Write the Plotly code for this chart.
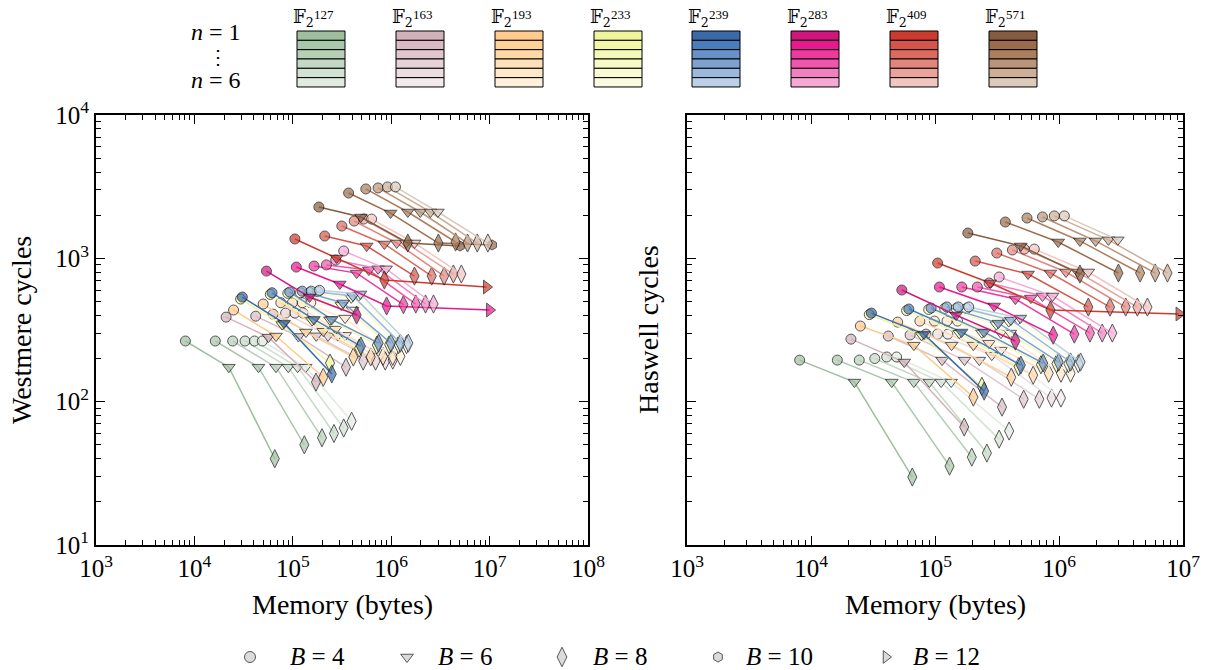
import plotly.graph_objects as go

W, H = 1208, 670
FIELDS = ["127", "163", "193", "233", "239", "283", "409", "571"]
N_VALUES = [1, 2, 3, 4, 5, 6]
B_VALUES = [4, 6, 8, 10, 12]

COLORS = {
    "127": ["#9dbf9e", "#a9c7aa", "#b6d0b7", "#c4d9c5", "#d2e2d2", "#e1ece1"],
    "163": ["#d3b1bb", "#dabbc4", "#e0c6cd", "#e6d2d7", "#ecdde1", "#f3eaed"],
    "193": ["#fecb8c", "#fed19a", "#fed8a9", "#fee0b9", "#fee8ca", "#fef0db"],
    "233": ["#eff59c", "#f2f7aa", "#f4f8b8", "#f6fac6", "#f8fbd4", "#fafce2"],
    "239": ["#3b6aa8", "#4a7dbc", "#6891c8", "#7ea2d0", "#9ab9dc", "#bcd0e8"],
    "283": ["#d0157f", "#e8188e", "#ee3a9f", "#f156ac", "#f27fc0", "#f6a9d5"],
    "409": ["#cd3b2f", "#d5554a", "#db6b61", "#e2857c", "#eaa29b", "#f1c5c0"],
    "571": ["#875c3e", "#9a6c4b", "#ab7f5e", "#bb957a", "#cdaf98", "#dccabb"],
}

# Memory (bytes), n = 1..6
MEM_B4 = {
    "127": [8100, 16300, 24500, 32700, 40800, 49000],
    "163": [21000, 42000, 63000, 84500, 105000, 127000],
    "193": [25000, 50000, 75500, 99000, 125000, 152000],
    "233": [29500, 59000, 89000, 119500, 148000, 179500],
    "239": [30700, 61500, 93000, 124500, 154000, 187000],
    "283": [54000, 108500, 164500, 219500, 273000, 329000],
    "409": [105000, 211000, 315000, 421000, 525000, 632000],
    "571": [184000, 369000, 552000, 736000, 917000, 1105000],
}
MEM_B6 = {
    "127": [22400, 44800, 67500, 90000, 112000, 135000],
    "163": [56500, 114000, 173000, 228000, 287000, 341000],
    "193": [67500, 136000, 204000, 273000, 340000, 405000],
    "233": [78000, 157000, 239000, 312000, 393000, 468000],
    "239": [81500, 164000, 249000, 325000, 409000, 488000],
    "283": [148000, 300000, 445000, 593000, 736000, 887000],
    "409": [279000, 563000, 853000, 1138000, 1414000, 1724000],
    "571": [492000, 985000, 1475000, 1974000, 2505000, 2980000],
}
MEM_B8 = {
    "127": [65600, 131000, 198000, 262000, 329000, 396000],
    "163": [172000, 347000, 519000, 694000, 870000, 1037000],
    "193": [204000, 412000, 619000, 826000, 1037000, 1240000],
    "233": [239000, 472000, 715000, 954000, 1190000, 1432000],
    "239": [249000, 492000, 745000, 994000, 1240000, 1492000],
    "283": [445000, 898000, 1330000, 1777000, 2232000, 2692000],
    "409": [853000, 1724000, 2580000, 3450000, 4285000, 5165000],
    "571": [1475000, 3015000, 4510000, 5965000, 7495000, 9600000],
}

# Westmere cycles, n = 1..6
WSM_B4 = {
    "127": [265, 265, 265, 265, 265, 265],
    "163": [389, 395, 408, 415, 415, 415],
    "193": [436, 480, 490, 490, 490, 490],
    "233": [520, 560, 570, 575, 578, 585],
    "239": [537, 575, 582, 590, 590, 598],
    "283": [815, 869, 884, 900, 973, 1125],
    "409": [1365, 1432, 1680, 1820, 1880, 1880],
    "571": [2280, 2856, 3048, 3098, 3148, 3148],
}
WSM_B6 = {
    "127": [174, 174, 174, 174, 174, 174],
    "163": [282, 285, 288, 288, 290, 290],
    "193": [287, 306, 310, 321, 383, 436],
    "233": [345, 368, 372, 470, 530, 550],
    "239": [353, 375, 375, 488, 546, 564],
    "283": [537, 662, 789, 828, 845, 845],
    "409": [1005, 1219, 1259, 1280, 1280, 1280],
    "571": [1941, 2070, 2105, 2105, 2105, 2105],
}
WSM_B8 = {
    "127": [40, 50, 56, 60, 65.5, 73],
    "163": [137, 174, 192, 192, 192, 195],
    "193": [148, 205, 205, 207, 207, 207],
    "233": [186, 236, 248, 250, 250, 250],
    "239": [156, 244, 256, 256, 256, 256],
    "283": [402, 465, 475, 480, 480, 480],
    "409": [706, 752, 752, 752, 777, 777],
    "571": [1279, 1279, 1300, 1279, 1279, 1279],
}

# Haswell cycles, n = 1..6 (None: no point in the Haswell panel)
HSW_B4 = {
    "127": [195, 195, 195, 200, 205, 205],
    "163": [273, 287, 292, 296, 296, 296],
    "193": [337, 359, 365, 365, 365, 365],
    "233": [405, 432, 440, 447, 447, 447],
    "239": [415, 443, 450, 458, 458, 458],
    "283": [601, 631, 631, 631, 673, 741],
    "409": [927, 957, 1089, 1143, 1160, 1160],
    "571": [1502, 1792, 1911, 1944, 1977, 1977],
}
HSW_B6 = {
    "127": [137, 137, 137, 137, 137, 137],
    "163": [189, 195, 195, 195, 211, 229],
    "193": [248, 248, 248, 256, 301, 301],
    "233": [290, 300, 302, 345, 362, 374],
    "239": [296, 306, 306, 353, 371, 383],
    "283": [402, 465, 520, 528, 546, 546],
    "409": [673, 777, 790, 803, 803, 803],
    "571": [1219, 1300, 1322, 1322, 1345, 1345],
}
HSW_B8 = {
    "127": [29.8, 35.5, 41, 43.8, 54.8, 62.4],
    "163": [66.5, 91.6, 104, 104, 106, 106],
    "193": [107.6, 148, 153, 158, 158, 158],
    "233": [128, 175, 181, 184, 184, 184],
    "239": [118.5, 180, 186, 189, 189, 189],
    "283": [265, 291, 296, 301, 301, 301],
    "409": [436, 457, 457, 457, 457, 457],
    "571": [777, 790, 790, 790, 790, None],
}

# Extra points with B = 10 and B = 12: (field, n, B, memory, westmere, haswell)
EXTRA_POINTS = [
    ("571", 1, 10, 5000000, 1219, None),
    ("571", 2, 10, 10600000, 1240, None),
    ("283", 2, 12, 10000000, 436, None),
    ("409", 1, 12, 9300000, 631, 409),
]

SYMBOLS = {4: "circle", 6: "triangle-down", 8: "diamond-tall", 10: "hexagon", 12: "triangle-right"}
SIZES = {4: 10, 6: 11, 8: 13, 10: 10, 12: 12}
LEGEND_LABELS = ["<i>B</i> = 4", "<i>B</i> = 6", "<i>B</i> = 8", "<i>B</i> = 10", "<i>B</i> = 12"]

SERIF = "Liberation Serif, DejaVu Serif, serif"


def px(x):
    return x / W


def py(y):
    return 1 - y / H


fig = go.Figure()

machines = [
    ("x", "y", WSM_B4, WSM_B6, WSM_B8, 4),
    ("x2", "y2", HSW_B4, HSW_B6, HSW_B8, 5),
]
for xa, ya, c4, c6, c8, col_idx in machines:
    for f in FIELDS:
        for i, n in enumerate(N_VALUES):
            pts = [
                (4, MEM_B4[f][i], c4[f][i]),
                (6, MEM_B6[f][i], c6[f][i]),
                (8, MEM_B8[f][i], c8[f][i]),
            ]
            for ef, en, eb, emem, ew, eh in EXTRA_POINTS:
                val = ew if col_idx == 4 else eh
                if ef == f and en == n:
                    pts.append((eb, emem, val))
            pts = [p for p in pts if p[2] is not None]
            pts.sort(key=lambda p: p[0])
            color = COLORS[f][i]
            fig.add_trace(go.Scatter(
                x=[p[1] for p in pts], y=[p[2] for p in pts],
                xaxis=xa, yaxis=ya, mode="lines+markers",
                line=dict(color=color, width=1.5),
                marker=dict(
                    symbol=[SYMBOLS[p[0]] for p in pts],
                    size=[SIZES[p[0]] for p in pts],
                    color=color, line=dict(color="#111111", width=1),
                ),
                showlegend=False, hoverinfo="skip",
            ))

# bottom legend (helper axis in pixel coordinates)
legend_marker_x = [250, 407, 562, 718, 886]
legend_text_x = [288, 436, 591, 744, 911]
fig.add_trace(go.Scatter(
    x=legend_marker_x, y=[657] * 5, xaxis="x3", yaxis="y3", mode="markers",
    marker=dict(symbol=[SYMBOLS[b] for b in B_VALUES], size=[11, 11, 14, 10, 11],
                color="#cccccc", line=dict(color="#111111", width=1)),
    showlegend=False, hoverinfo="skip",
))

minor_x = [k * 10 ** e for e in range(3, 8) for k in range(2, 10)]
minor_y = [k * 10 ** e for e in range(1, 4) for k in range(2, 10)]

axis_common = dict(
    type="log", showline=True, linewidth=2, linecolor="black", mirror="allticks",
    ticks="inside", ticklen=9, tickwidth=1.3, tickcolor="black",
    showgrid=False, zeroline=False, automargin=False,
    tickfont=dict(family=SERIF, size=25, color="black"),
)
minor_common = dict(ticks="inside", ticklen=5, tickwidth=1, tickcolor="black", showgrid=False)

fig.update_layout(
    width=W, height=H, margin=dict(l=0, r=0, t=0, b=0, pad=0, autoexpand=False),
    paper_bgcolor="white", plot_bgcolor="white",
    font=dict(family=SERIF, color="black"),
    xaxis=dict(axis_common, domain=[px(96), px(588)], range=[3, 8], anchor="y",
               tickvals=[10 ** e for e in range(3, 9)],
               ticktext=[f"10<sup>{e}</sup>" for e in range(3, 9)],
               minor=dict(minor_common, tickvals=minor_x)),
    yaxis=dict(axis_common, domain=[py(545), py(115)], range=[1, 4], anchor="x",
               tickvals=[10 ** e for e in range(1, 5)],
               ticktext=[f"10<sup>{e}</sup>" for e in range(1, 5)],
               minor=dict(minor_common, tickvals=minor_y)),
    xaxis2=dict(axis_common, domain=[px(687), px(1183)], range=[3, 7], anchor="y2",
                tickvals=[10 ** e for e in range(3, 8)],
                ticktext=[f"10<sup>{e}</sup>" for e in range(3, 8)],
                minor=dict(minor_common, tickvals=minor_x)),
    yaxis2=dict(axis_common, domain=[py(545), py(115)], range=[1, 4], anchor="x2",
                tickvals=[10 ** e for e in range(1, 5)], showticklabels=False,
                minor=dict(minor_common, tickvals=minor_y)),
    xaxis3=dict(domain=[0, 1], range=[0, W], visible=False, anchor="y3", automargin=False),
    yaxis3=dict(domain=[0, py(603)], range=[H, 603], visible=False, anchor="x3", automargin=False),
)

annotations = []


def ann(x, y, text, size, xanchor="center", angle=0, family=SERIF):
    annotations.append(dict(x=px(x), y=py(y), xref="paper", yref="paper", text=text,
                            xanchor=xanchor, yanchor="middle", textangle=angle,
                            showarrow=False, font=dict(family=family, size=size, color="black")))


# axis titles
ann(342, 604, "Memory (bytes)", 28)
ann(935, 604, "Memory (bytes)", 28)
ann(21, 330, "Westmere cycles", 28, angle=-90)
ann(648, 330, "Haswell cycles", 28, angle=-90)

# bottom legend labels
for tx, lab in zip(legend_text_x, LEGEND_LABELS):
    ann(tx, 656, lab, 25, xanchor="left")

# top legend: n labels
ann(216, 32, "<i>n</i> = 1", 24)
ann(218, 57, "⋮", 20)
ann(216, 80, "<i>n</i> = 6", 24)

shapes = []
col_left = [297, 396, 495, 594, 692, 791, 890, 989]
sw_w = 48
row_top = 31
row_h = 9.33
for f, x0 in zip(FIELDS, col_left):
    for i in range(6):
        y0 = row_top + i * row_h
        shapes.append(dict(type="rect", xref="paper", yref="paper",
                           x0=px(x0), x1=px(x0 + sw_w), y0=py(y0 + row_h), y1=py(y0),
                           fillcolor=COLORS[f][i], line=dict(color="black", width=1)))
    cx = x0 + sw_w / 2
    ann(cx - 5, 18, "𝔽<sub>2</sub>", 18, xanchor="right", family="DejaVu Serif, DejaVu Sans, serif")
    ann(cx - 9, 15, f, 13, xanchor="left")

fig.update_layout(annotations=annotations, shapes=shapes)
fig.write_html(
    "out.html",
    config={"displayModeBar": False},
    post_script="document.body.style.margin='0px';document.body.style.padding='0px';"
                "document.documentElement.style.overflow='hidden';",
)
